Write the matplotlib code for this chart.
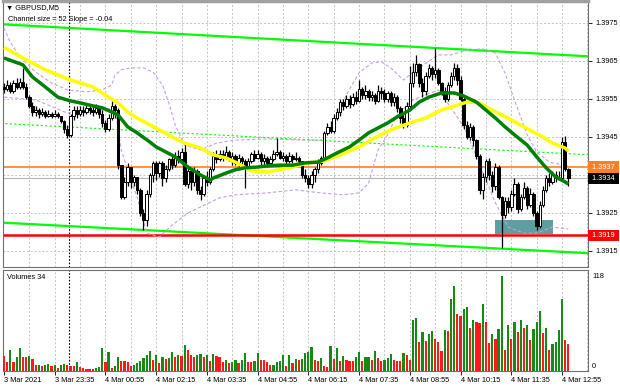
import matplotlib
matplotlib.use("Agg")
import matplotlib.pyplot as plt
import matplotlib.transforms as mtransforms
from matplotlib.patches import Rectangle
import numpy as np

# --- GBPUSD M5, 3 Mar 22:15 .. 4 Mar 13:05 (179 bars) ---
first_open = 1.3958

close = [
    1.39575, 1.39585, 1.3957, 1.3959, 1.3958, 1.39595, 1.3958, 1.39555,
    1.3953, 1.39515,
    1.3952, 1.3951, 1.39515, 1.39505, 1.3951, 1.39505, 1.3951, 1.39505,
    1.3949, 1.3947, 1.39455,
    1.39505, 1.3952, 1.3951,
    1.3952, 1.39515, 1.39525, 1.3952, 1.39515, 1.39525,
    1.3951, 1.39485, 1.3947, 1.395,
    1.3953, 1.3952,
    1.39375, 1.3929, 1.3933, 1.3937, 1.3933, 1.39345, 1.3931, 1.3925, 1.3923, 1.393,
    1.3935, 1.3938, 1.39355, 1.3938, 1.3934, 1.39365, 1.3939, 1.39375, 1.394, 1.3939,
    1.3941, 1.39325, 1.3936, 1.3933, 1.3936, 1.3931, 1.393, 1.3934, 1.3933, 1.39365,
    1.394, 1.3939, 1.39405, 1.39395, 1.3941, 1.3939, 1.394, 1.3938, 1.39395, 1.39385,
    1.3937, 1.39385, 1.39405, 1.39395, 1.39405, 1.39385, 1.39395, 1.3938, 1.3939, 1.39405,
    1.3941, 1.39395, 1.394, 1.39385, 1.394, 1.3939, 1.39395, 1.39385, 1.3935, 1.3934,
    1.39325, 1.3935, 1.39365, 1.3938, 1.39395, 1.3946, 1.39475, 1.39465, 1.395, 1.39515,
    1.3954, 1.3953, 1.3955, 1.39535, 1.39555, 1.39545, 1.39575, 1.3956, 1.3957, 1.39555,
    1.3956, 1.39545, 1.3957, 1.39565, 1.3955, 1.39565, 1.3954, 1.39555, 1.39525, 1.395,
    1.3948, 1.3953, 1.3959, 1.3962, 1.3964, 1.3959, 1.3957, 1.3961, 1.3963, 1.39615,
    1.39625, 1.3959, 1.3957, 1.3955, 1.39585, 1.3961, 1.3963, 1.396, 1.3955, 1.3948,
    1.3945, 1.39475, 1.3944, 1.394, 1.3931, 1.39345, 1.39385, 1.3935, 1.3932, 1.3937,
    1.3929, 1.39245, 1.3928, 1.39265, 1.393, 1.39325, 1.3926, 1.3929, 1.39315, 1.3927,
    1.393, 1.3925, 1.39215, 1.3927, 1.3931, 1.3934, 1.3933, 1.3935, 1.3934, 1.3934,
    1.39435, 1.39365, 1.3934,
]

high = [
    1.3959, 1.396, 1.39595, 1.396, 1.39605, 1.39605, 1.3963, 1.3959,
    1.3956, 1.3954,
    1.3953, 1.39525, 1.39525, 1.3952, 1.3952, 1.39515, 1.3952, 1.39515,
    1.39505, 1.39495, 1.3948,
    1.3951, 1.3953, 1.3953,
    1.3953, 1.3953, 1.39535, 1.3953, 1.3953, 1.39535,
    1.3953, 1.3952, 1.39495, 1.3951,
    1.39545, 1.39535,
    1.39525, 1.39375, 1.39345, 1.3938, 1.3937, 1.3935, 1.39345, 1.39315, 1.3926, 1.3931,
    1.39355, 1.39385, 1.39385, 1.39385, 1.39385, 1.39375, 1.39395, 1.394, 1.3941, 1.39415,
    1.3942, 1.39433, 1.39375, 1.39365, 1.3937, 1.39365, 1.3932, 1.3935, 1.3936, 1.3937,
    1.3941, 1.39415, 1.39415, 1.39415, 1.39425, 1.39415, 1.3941, 1.39405, 1.39405, 1.394,
    1.3939, 1.39395, 1.3941, 1.39415, 1.39415, 1.3941, 1.39405, 1.394, 1.394, 1.39415,
    1.39447, 1.39415, 1.3941, 1.39405, 1.3941, 1.39405, 1.3941, 1.394, 1.39385, 1.39365,
    1.3935, 1.3936, 1.3937, 1.3939, 1.394, 1.39465, 1.39485, 1.3949, 1.3951, 1.39525,
    1.3955, 1.3955, 1.3956, 1.3956, 1.39565, 1.3957, 1.396, 1.3958, 1.39585, 1.39575,
    1.3957, 1.39565, 1.39585, 1.3958, 1.39575, 1.3957, 1.3957, 1.39565, 1.3956, 1.3953,
    1.3951, 1.3954, 1.39635, 1.39645, 1.39665, 1.39645, 1.39605, 1.3962, 1.3964, 1.39635,
    1.39684, 1.3963, 1.39595, 1.3958, 1.39595, 1.3962, 1.39645, 1.3964, 1.3961, 1.39555,
    1.3949, 1.39485, 1.3948, 1.39445, 1.39405, 1.39355, 1.3939, 1.39395, 1.3936, 1.3938,
    1.39375, 1.39295, 1.3929, 1.3929, 1.3931, 1.3934, 1.3933, 1.393, 1.3933, 1.3932,
    1.39315, 1.39305, 1.39255, 1.3928, 1.3932, 1.3935, 1.39355, 1.3936, 1.3936, 1.3936,
    1.3945, 1.39452, 1.39368,
]

low = [
    1.39565, 1.3957, 1.39565, 1.39565, 1.39575, 1.39575, 1.39575, 1.3955,
    1.39525, 1.39505,
    1.39505, 1.395, 1.39505, 1.39498, 1.39502, 1.395, 1.39502, 1.39498,
    1.39485, 1.3946, 1.39447,
    1.3945, 1.39495, 1.395,
    1.39505, 1.39505, 1.3951, 1.3951, 1.39505, 1.3951,
    1.395, 1.39475, 1.39462, 1.39465,
    1.39495, 1.395,
    1.39365, 1.39285, 1.39285, 1.3932, 1.39315, 1.3932, 1.393, 1.3924, 1.39204, 1.39215,
    1.3929, 1.3933, 1.39335, 1.39345, 1.3932, 1.3933, 1.3936, 1.39365, 1.3937, 1.3938,
    1.39385, 1.3932, 1.39315, 1.3931, 1.3932, 1.393, 1.39283, 1.39295, 1.3932, 1.39325,
    1.3936, 1.3938, 1.39385, 1.39385, 1.3939, 1.39385, 1.39375, 1.39375, 1.3937, 1.39375,
    1.39315, 1.39365, 1.3938, 1.39385, 1.3939, 1.39375, 1.3937, 1.3937, 1.39375, 1.39385,
    1.394, 1.3939, 1.39385, 1.39375, 1.3938, 1.3938, 1.39385, 1.39375, 1.3934, 1.3933,
    1.39315, 1.39315, 1.3933, 1.39355, 1.39375, 1.3939, 1.39455, 1.3946, 1.3946, 1.39495,
    1.39505, 1.3952, 1.39525, 1.39525, 1.3953, 1.39535, 1.3954, 1.3955, 1.3955, 1.39545,
    1.39545, 1.39535, 1.3954, 1.3955, 1.3954, 1.3954, 1.3953, 1.3953, 1.39515, 1.39485,
    1.39472, 1.39475, 1.39525, 1.3958, 1.3961, 1.3958, 1.39555, 1.3956, 1.39605, 1.396,
    1.39605, 1.39585, 1.3956, 1.3954, 1.39545, 1.3958, 1.396, 1.39585, 1.39545, 1.3947,
    1.39445, 1.3944, 1.39425, 1.3939, 1.393, 1.39285, 1.3933, 1.39335, 1.39305, 1.3931,
    1.39285, 1.39157, 1.39235, 1.3925, 1.39255, 1.39295, 1.3925, 1.39255, 1.39285, 1.3926,
    1.39265, 1.3924, 1.39204, 1.3921, 1.39265, 1.39305, 1.3932, 1.39325, 1.3933, 1.39335,
    1.39335, 1.3936, 1.3932,
]

volume = [
    19, 11, 26, 11, 17, 28, 17, 17, 19, 15,
    7, 8, 6, 8, 9, 6, 8, 4, 7, 9,
    8, 6, 6, 11, 5, 4, 3, 2, 2, 4,
    5, 28, 11, 23, 4, 6, 17, 13, 12, 11,
    6, 7, 10, 13, 16, 20, 25, 14, 20, 10,
    18, 15, 16, 24, 18, 20, 19, 32, 26, 20,
    17, 20, 21, 18, 20, 13, 21, 19, 17, 11,
    14, 10, 11, 14, 10, 14, 22, 11, 11, 12,
    22, 14, 14, 11, 7, 8, 11, 12, 20, 6,
    20, 10, 15, 14, 15, 22, 23, 30,
    14, 13, 16, 6, 5, 31, 15, 28, 12, 19,
    14, 13, 12, 17, 23, 12, 17, 18, 14, 25,
    16, 12, 14, 16, 21, 14, 13, 12, 22, 20,
    14, 63, 66, 36, 48, 37, 46, 50, 40, 36,
    25, 51, 50, 90, 106, 71, 68, 77, 79, 53,
    63, 61, 60, 83, 61, 35, 46, 40, 52, 118,
    26, 57, 40, 61, 48, 63, 53, 57, 39, 52,
    61, 75, 47, 53, 26, 34, 36, 51, 89, 39,
    34,
]

# moving averages, read at sample bars
ma_fast_bar = [0, 6, 9, 13, 17, 21, 24, 28, 31, 34, 36, 39, 42, 46, 48, 51, 54, 58, 62, 65,
               66, 70, 73, 76, 80, 83, 87, 91, 95, 99, 102, 105, 109, 112, 115, 118, 121,
               124, 128, 131, 134, 138, 142, 145, 149, 152, 155, 158, 161, 165, 168, 171,
               174, 177, 178]
ma_fast = [1.39657, 1.39639, 1.39607, 1.39581, 1.39554, 1.39544, 1.39539, 1.39531, 1.39526,
           1.39515, 1.39507, 1.39476, 1.3946, 1.39436, 1.39423, 1.3941, 1.39397, 1.3937,
           1.39349, 1.39336, 1.39341, 1.39354, 1.39363, 1.39368, 1.3937, 1.39373, 1.39375,
           1.39375, 1.39381, 1.39383, 1.39394, 1.39407, 1.39423, 1.39441, 1.3946, 1.39473,
           1.39486, 1.39502, 1.3952, 1.39541, 1.39554, 1.39565, 1.39565, 1.39557, 1.39541,
           1.3952, 1.39499, 1.39476, 1.39455, 1.39428, 1.39397, 1.39368, 1.39344, 1.39331,
           1.39325]

ma_slow_bar = [0, 6, 13, 21, 28, 33, 36, 39, 42, 46, 49, 53, 57, 62, 66, 70, 73, 78, 83, 90,
               96, 101, 106, 112, 117, 122, 128, 133, 138, 143, 146, 150, 154, 160, 165,
               170, 173, 177, 178]
ma_slow = [1.39685, 1.39657, 1.39626, 1.39599, 1.39581, 1.39554, 1.39539, 1.39515, 1.39499,
           1.39481, 1.39468, 1.39449, 1.39433, 1.3942, 1.39402, 1.39394, 1.39383, 1.3936,
           1.39357, 1.39368, 1.39381, 1.39386, 1.39402, 1.39423, 1.39447, 1.39468, 1.39486,
           1.39499, 1.3952, 1.39533, 1.39541, 1.39539, 1.3952, 1.39494, 1.39471, 1.39449,
           1.39433, 1.3942, 1.39412]

band_up_bar = [0, 2, 5, 10, 15, 20, 26, 31, 34, 35, 37, 40, 44, 47, 50, 52, 54, 57, 62, 67,
               73, 83, 94, 100, 104, 108, 112, 116, 119, 122, 126, 130, 137, 141, 146, 151,
               155, 158, 161, 165, 168, 172, 178]
band_up = [1.39736, 1.39699, 1.3966, 1.3962, 1.39591, 1.39573, 1.39568, 1.39573, 1.39586,
           1.39612, 1.39626, 1.39631, 1.39631, 1.3962, 1.39586, 1.39539, 1.39481, 1.39428,
           1.39415, 1.39433, 1.39441, 1.39444, 1.39441, 1.39441, 1.39481, 1.3956, 1.39618,
           1.39644, 1.39647, 1.39631, 1.39599, 1.39626, 1.39665, 1.39665, 1.39678, 1.39681,
           1.3967, 1.39618, 1.39547, 1.39455, 1.3941, 1.39383, 1.39373]

band_dn_bar = [0, 10, 20, 31, 35, 37, 40, 42, 45, 49, 53, 58, 62, 68, 73, 83, 92, 100, 107,
               112, 115, 118, 121, 124, 129, 137, 143, 146, 149, 152, 155, 159, 164, 168,
               173, 178]
band_dn = [1.39554, 1.39547, 1.39512, 1.3952, 1.39526, 1.39415, 1.39336, 1.39291, 1.39196,
           1.39186, 1.39217, 1.39249, 1.39265, 1.39289, 1.39297, 1.39302, 1.3931, 1.39302,
           1.39297, 1.39302, 1.39328, 1.39415, 1.39455, 1.39507, 1.39547, 1.39573, 1.39502,
           1.3946, 1.39397, 1.39336, 1.39276, 1.39212, 1.39196, 1.39196, 1.39212, 1.39207]

# regression channel (value at left and right edge of the chart)
chan_bar = [-1, 185]
chan_top = [1.39746, 1.39661]
chan_mid = [1.39485, 1.39402]
chan_bot = [1.39224, 1.39143]

level_orange = 1.3937
level_bid = 1.3934
level_red = 1.3919
zone_bars = (155.0, 173.3)
zone_prices = (1.39194, 1.3923)
day_break = 20.6

price_ticks = [1.3915, 1.3925, 1.3935, 1.3945, 1.3955, 1.3965, 1.3975]
time_ticks = [0, 16, 32, 48, 64, 80, 96, 112, 128, 144, 160, 176]
time_labels = ["3 Mar 2021", "3 Mar 23:35", "4 Mar 00:55", "4 Mar 02:15", "4 Mar 03:35",
               "4 Mar 04:55", "4 Mar 06:15", "4 Mar 07:35", "4 Mar 08:55", "4 Mar 10:15",
               "4 Mar 11:35", "4 Mar 12:55"]

plt.rcParams['font.family'] = ['Liberation Sans', 'DejaVu Sans']
FS = 5.3

close = np.array(close)
high = np.array(high)
low = np.array(low)
volume = np.array(volume)
bars = np.arange(len(close))
opens = np.concatenate([[first_open], close[:-1]])

fig = plt.figure(figsize=(6.2, 3.88), dpi=100)
ax = fig.add_axes([3 / 620, 1 - 267 / 388, 585 / 620, 266 / 388])
axv = fig.add_axes([3 / 620, 1 - 371 / 388, 585 / 620, 101 / 388])

xlim = (-0.3, 184.2)
grid_kw = dict(color='#c4c4c4', lw=0.7, ls=(0, (2, 2)))

# ---- price panel ----
ax.set_xlim(*xlim)
ax.set_ylim(1.39107, 1.39807)
for v in np.arange(8, 185, 8):
    ax.axvline(v, zorder=0, **grid_kw)
    axv.axvline(v, zorder=0, **grid_kw)
for p in price_ticks:
    ax.axhline(p, zorder=0, **grid_kw)
ax.axvline(day_break, color='black', lw=0.8, ls=(0, (1.5, 1.5)), zorder=1)
axv.axvline(day_break, color='black', lw=0.8, ls=(0, (1.5, 1.5)), zorder=1)

ax.add_patch(Rectangle((zone_bars[0], zone_prices[0]), zone_bars[1] - zone_bars[0],
                       zone_prices[1] - zone_prices[0], facecolor='#5f9ea0',
                       edgecolor='none', zorder=2))

ax.plot(chan_bar, chan_top, color='#00ff00', lw=1.6, zorder=2)
ax.plot(chan_bar, chan_bot, color='#00ff00', lw=1.6, zorder=2)
ax.plot(chan_bar, chan_mid, color='#00ff00', lw=0.8, ls=(0, (2, 2)), zorder=2)
ax.axhline(level_orange, color='#ff7f27', lw=1.2, zorder=2)
ax.axhline(level_bid, color='#b4b4b4', lw=0.8, zorder=2)
ax.axhline(level_red, color='#ff0000', lw=1.8, zorder=2)

ax.plot(band_up_bar, band_up, color='#c8a0e0', lw=0.8, ls=(0, (3, 2)), zorder=3)
ax.plot(band_dn_bar, band_dn, color='#c8a0e0', lw=0.8, ls=(0, (3, 2)), zorder=3)

up = close >= opens
body_lo = np.minimum(opens, close)
body_h = np.maximum(np.abs(close - opens), 0.00002)
ax.vlines(bars, low, high, color='black', lw=0.9, zorder=4)
ax.bar(bars[up], body_h[up], bottom=body_lo[up], width=0.78, color='white',
       edgecolor='black', linewidth=0.7, zorder=5)
ax.bar(bars[~up], body_h[~up], bottom=body_lo[~up], width=0.78, color='black',
       edgecolor='black', linewidth=0.7, zorder=5)

ax.plot(ma_slow_bar, ma_slow, color='#ffff00', lw=2.5, zorder=6, solid_capstyle='butt')
ax.plot(ma_fast_bar, ma_fast, color='#008000', lw=2.5, zorder=7, solid_capstyle='butt')

ax.yaxis.tick_right()
ax.set_yticks(price_ticks)
ax.set_yticklabels(["%.4f" % p if p != 1.3935 else "" for p in price_ticks])
ax.tick_params(axis='y', length=3, width=0.6, pad=2, labelsize=FS, colors='black')
ax.set_xticks([])
for s in ax.spines.values():
    s.set_color('#707070')
    s.set_linewidth(0.8)
ax.spines['top'].set_linewidth(2.5)
ax.spines['top'].set_color('#a0a0a0')

trans = mtransforms.blended_transform_factory(ax.transAxes, ax.transData)
for val, fc in [(level_orange, '#ff7f27'), (level_bid, 'black'), (level_red, '#ff0000')]:
    ax.text(1.003, val, " %.4f " % val, transform=trans, fontsize=FS, color='white',
            va='center', ha='left', clip_on=False,
            bbox=dict(boxstyle='square,pad=0.3', fc=fc, ec='none'))

ax.text(0.005, 0.975, "\u25bc GBPUSD,M5", transform=ax.transAxes, fontsize=FS,
        va='center', ha='left')
ax.text(0.009, 0.93, "Channel size = 52 Slope = -0.04", transform=ax.transAxes,
        fontsize=FS, va='center', ha='left')

# ---- volume panel ----
vol_up = np.concatenate([[False], volume[1:] > volume[:-1]])
axv.bar(bars, volume, width=0.7, color=np.where(vol_up, '#158a15', '#ff1a1a'), zorder=3)
axv.set_xlim(*xlim)
axv.set_ylim(0, 125.5)
axv.set_yticks([])
axv.set_xticks(time_ticks)
axv.set_xticklabels(time_labels, ha='left')
axv.tick_params(axis='x', length=3, width=0.6, pad=1.5, labelsize=FS)
for s in axv.spines.values():
    s.set_color('#707070')
    s.set_linewidth(0.8)
transv = mtransforms.blended_transform_factory(axv.transAxes, axv.transData)
axv.text(1.007, 118, "118", transform=transv, fontsize=FS, va='center', ha='left')
axv.text(1.007, 1.5, "0", transform=transv, fontsize=FS, va='bottom', ha='left')
axv.text(0.006, 0.93, "Volumes 34", transform=axv.transAxes, fontsize=FS,
         va='center', ha='left')

fig.savefig("out.png", dpi=100)
